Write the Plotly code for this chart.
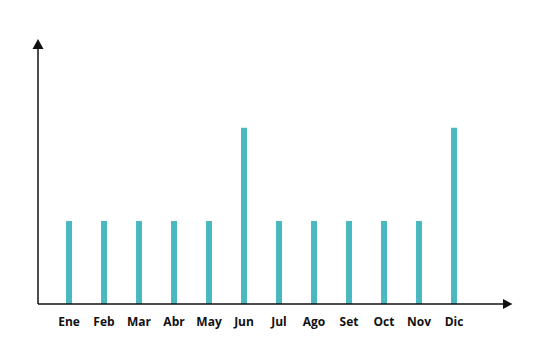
import plotly.graph_objects as go

months = ["Ene", "Feb", "Mar", "Abr", "May", "Jun", "Jul", "Ago", "Set", "Oct", "Nov", "Dic"]
values = [8, 8, 8, 8, 8, 17, 8, 8, 8, 8, 8, 17]

W, H = 535, 354
L, R, T, B = 38, 503, 49, 304

fig = go.Figure(go.Bar(
    x=list(range(len(months))), y=values,
    marker=dict(color="#49B8C0", line=dict(width=0)),
    width=0.17,
))

axis_color = "#111111"
fig.update_layout(
    width=W, height=H,
    margin=dict(l=L, r=W - R, t=T, b=H - B, pad=0),
    paper_bgcolor="white", plot_bgcolor="white",
    showlegend=False,
    xaxis=dict(
        range=[-0.886, 12.4], tickmode="array",
        tickvals=list(range(len(months))), ticktext=months,
        showgrid=False, zeroline=False, showline=False, ticks="",
        tickfont=dict(family="Open Sans", size=12, color="#111111", weight="bold"),
        ticklabelstandoff=9,
    ),
    yaxis=dict(range=[0, 24.58], showgrid=False, zeroline=False,
               showline=False, showticklabels=False, ticks=""),
    shapes=[
        dict(type="line", xref="paper", yref="paper", x0=0, x1=1, y0=0, y1=0,
             line=dict(color=axis_color, width=1.5)),
        dict(type="line", xref="paper", yref="paper", x0=0, x1=0, y0=0, y1=1,
             line=dict(color=axis_color, width=1.5)),
        dict(type="path", xref="paper", yref="paper",
             xsizemode="pixel", ysizemode="pixel", xanchor=0, yanchor=1,
             path="M -5.5 0 L 5.5 0 L 0 10 Z",
             fillcolor=axis_color, line=dict(width=0)),
        dict(type="path", xref="paper", yref="paper",
             xsizemode="pixel", ysizemode="pixel", xanchor=1, yanchor=0,
             path="M 0 -5 L 0 5 L 9.5 0 Z",
             fillcolor=axis_color, line=dict(width=0)),
    ],
)

fig.write_html("out.html")
